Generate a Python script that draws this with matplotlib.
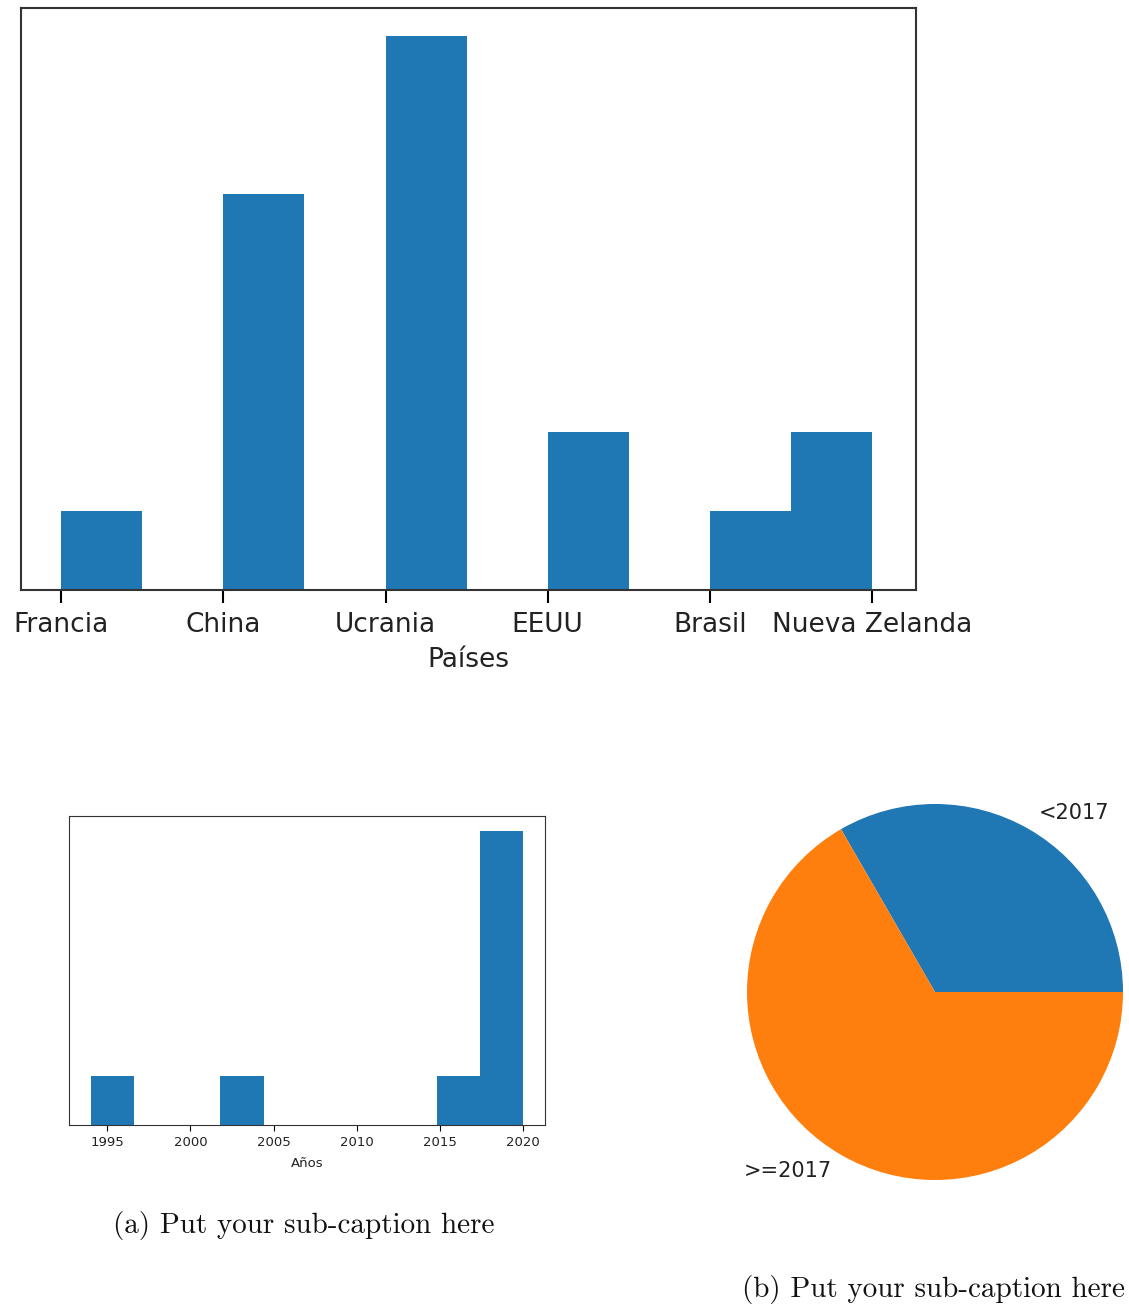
import matplotlib
matplotlib.use("Agg")
import matplotlib.pyplot as plt
import numpy as np

# ---- data ----
paises = ['Francia', 'China', 'Ucrania', 'EEUU', 'Brasil', 'Nueva Zelanda']
conteo_paises = [1, 5, 7, 2, 1, 2]
anios = [1994, 2003, 2016, 2018, 2018, 2019, 2019, 2020, 2020]
pie_labels = ['<2017', '>=2017']
caption_a = '(a) Put your sub-caption here'
caption_b = '(b) Put your sub-caption here'

W, H = 1129, 1316
fig = plt.figure(figsize=(W / 100, H / 100), dpi=100)

def box(l, t, r, b):
    return [l / W, 1 - b / H, (r - l) / W, (b - t) / H]

# ---- top histogram of countries ----
ax1 = fig.add_axes(box(21, 8, 916, 590))
idx = np.repeat(np.arange(len(paises)), conteo_paises)
ax1.hist(idx, bins=10, color='#1f77b4')
ax1.set_xticks(range(len(paises)))
ax1.set_xticklabels(paises, fontsize=19, color='#222222')
ax1.set_xlim(-0.247, 5.27)
ax1.set_yticks([])
ax1.set_xlabel('Países', fontsize=19, color='#222222', labelpad=6.5)
ax1.tick_params(axis='x', length=9, width=1.5, pad=7)
for s in ax1.spines.values():
    s.set_linewidth(1.5)
    s.set_color('#333333')

# ---- bottom-left histogram of years ----
ax2 = fig.add_axes(box(69, 816, 545, 1125))
ax2.hist(anios, bins=10, color='#1f77b4')
ax2.set_xticks([1995, 2000, 2005, 2010, 2015, 2020])
ax2.tick_params(axis='x', labelsize=9.5, length=4, width=0.8, pad=4, labelcolor='#222222')
ax2.set_yticks([])
ax2.set_xlabel('Años', fontsize=9.5, color='#222222', labelpad=6)
for s in ax2.spines.values():
    s.set_linewidth(0.8)
    s.set_color('#333333')

# ---- pie ----
n_before = sum(1 for a in anios if a < 2017)
n_after = sum(1 for a in anios if a >= 2017)
ax3 = fig.add_axes(box(747 - 4, 804 - 4, 1123 + 4, 1180 + 4))
ax3.pie([n_before, n_after], labels=pie_labels, colors=['#1f77b4', '#ff7f0e'],
        textprops={'fontsize': 15, 'color': '#222222'})
lim = 1.0 + 4 / 188
ax3.set_xlim(-lim, lim)
ax3.set_ylim(-lim, lim)
ax3.set_aspect('equal')
ax3.axis('off')

# ---- captions ----
fig.text(303.5 / W, 1 - 1225 / H, caption_a, ha='center', va='center',
         fontsize=21, family='cmr10', color='#111111')
fig.text(934 / W, 1 - 1289 / H, caption_b, ha='center', va='center',
         fontsize=21, family='cmr10', color='#111111')

fig.savefig('out.png', dpi=100)
